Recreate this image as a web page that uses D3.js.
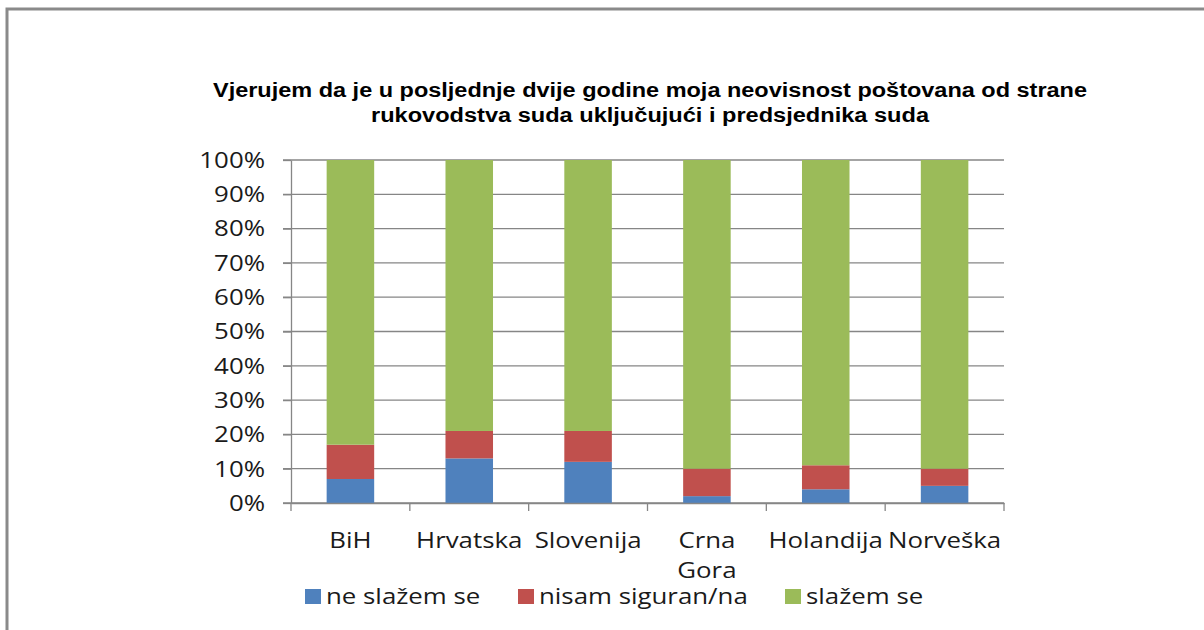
<!DOCTYPE html>
<html><head><meta charset="utf-8">
<script src="https://cdn.jsdelivr.net/npm/d3@7"></script>
<style>html,body{margin:0;padding:0;background:#fff;}svg{display:block;}</style>
</head><body>
<script>
const categories = ["BiH","Hrvatska","Slovenija","Crna Gora","Holandija","Norveška"];
const seriesNames = ["ne slažem se","nisam siguran/na","slažem se"];
const neSlazem = [7,13,12,2,4,5];
const nisamSiguran = [10,8,9,8,7,5];
const slazem = [83,79,79,90,89,90];
const yTicks = [0,10,20,30,40,50,60,70,80,90,100];
const colors = ["#4f81bd","#c0504d","#9bbb59"];
const titleLines = ["Vjerujem da je u posljednje dvije godine moja neovisnost poštovana od strane","rukovodstva suda uključujući i predsjednika suda"];

(function(){
const W=1204,H=630;
const FONT="Open Sans, sans-serif", FS=21, STRETCH=1.23;
const svg=d3.select("body").append("svg").attr("width",W).attr("height",H);
svg.append("rect").attr("x",7).attr("y",9).attr("width",1400).attr("height",800)
  .attr("fill","#fff").attr("stroke","#8a8a8a").attr("stroke-width",3);

function stretch(sel){
  sel.each(function(){
    const n=this;
    if(n.querySelector("tspan")){
      d3.select(n).selectAll("tspan").each(function(){
        const w=this.getComputedTextLength();
        d3.select(this).attr("textLength",w*STRETCH).attr("lengthAdjust","spacingAndGlyphs");
      });
    } else {
      const w=n.getComputedTextLength();
      d3.select(n).attr("textLength",w*STRETCH).attr("lengthAdjust","spacingAndGlyphs");
    }
  });
}

const pl=291,pr=1004,pt=160,pb=503;
const x=d3.scaleBand().domain(categories).range([pl,pr]).paddingInner(0.6).paddingOuter(0.3);
const xb=d3.scaleBand().domain(categories).range([pl,pr]);
const y=d3.scaleLinear().domain([0,100]).range([pb,pt]);

svg.append("g").selectAll("line").data(yTicks).join("line")
  .attr("x1",pl-8).attr("x2",pr).attr("y1",d=>y(d)).attr("y2",d=>y(d))
  .attr("stroke","#868686").attr("stroke-width",1.3);
const yAxis=svg.append("g").attr("transform",`translate(${pl},0)`)
  .call(d3.axisLeft(y).tickValues(yTicks).tickFormat(d=>d+"%").tickSize(8).tickSizeOuter(0));
yAxis.select(".domain").attr("stroke","#868686").attr("stroke-width",1.3);
yAxis.selectAll(".tick line").attr("stroke","#868686").attr("stroke-width",1.3);
const yt=yAxis.selectAll("text").attr("font-family",FONT).attr("font-size",FS).attr("fill","#1a1a1a").attr("x",-26).attr("dy","0.35em");
stretch(yt);

const rows=categories.map((c,i)=>({cat:c,a:neSlazem[i],b:nisamSiguran[i],c:slazem[i]}));
const stack=d3.stack().keys(["a","b","c"])(rows);
svg.append("g").selectAll("g").data(stack).join("g").attr("fill",(d,i)=>colors[i])
  .selectAll("rect").data(d=>d).join("rect")
  .attr("x",d=>x(d.data.cat)).attr("width",x.bandwidth())
  .attr("y",d=>y(d[1])).attr("height",d=>y(d[0])-y(d[1]));

const xAxis=svg.append("g").attr("transform",`translate(0,${pb})`)
  .call(d3.axisBottom(xb).tickSize(0).tickFormat(""));
xAxis.select(".domain").attr("stroke","#868686").attr("stroke-width",1.3);
svg.append("g").selectAll("line").data(d3.range(categories.length+1)).join("line")
  .attr("x1",i=>pl+i*xb.step()).attr("x2",i=>pl+i*xb.step())
  .attr("y1",pb).attr("y2",pb+8).attr("stroke","#868686").attr("stroke-width",1.3);
const xl=svg.append("g").selectAll("text").data(categories).join("text")
  .attr("x",d=>xb(d)+xb.bandwidth()/2).attr("y",548).attr("text-anchor","middle")
  .attr("font-family",FONT).attr("font-size",FS).attr("fill","#1a1a1a");
xl.each(function(d){
  const t=d3.select(this);
  if(d==="Crna Gora"){
    t.append("tspan").attr("x",xb(d)+xb.bandwidth()/2).text("Crna");
    t.append("tspan").attr("x",xb(d)+xb.bandwidth()/2).attr("dy",30).text("Gora");
  } else t.text(d);
});
stretch(xl);

const titleW=[874,558];
svg.append("g").selectAll("text").data(titleLines).join("text")
  .attr("x",650).attr("y",(d,i)=>97+i*25).attr("text-anchor","middle")
  .attr("font-family","Liberation Sans, Arial, sans-serif").attr("font-weight","bold")
  .attr("font-size",20).attr("fill","#000")
  .attr("textLength",(d,i)=>titleW[i]).attr("lengthAdjust","spacingAndGlyphs").text(d=>d);

const legX=[305,518,785];
const lg=svg.append("g").selectAll("g").data(seriesNames).join("g")
  .attr("transform",(d,i)=>`translate(${legX[i]},0)`);
lg.append("rect").attr("x",0).attr("y",589).attr("width",16).attr("height",15).attr("fill",(d,i)=>colors[i]);
const lt=lg.append("text").attr("x",21).attr("y",604).attr("font-family",FONT)
  .attr("font-size",FS).attr("fill","#1a1a1a").text(d=>d);
stretch(lt);
})();
</script>
</body></html>
